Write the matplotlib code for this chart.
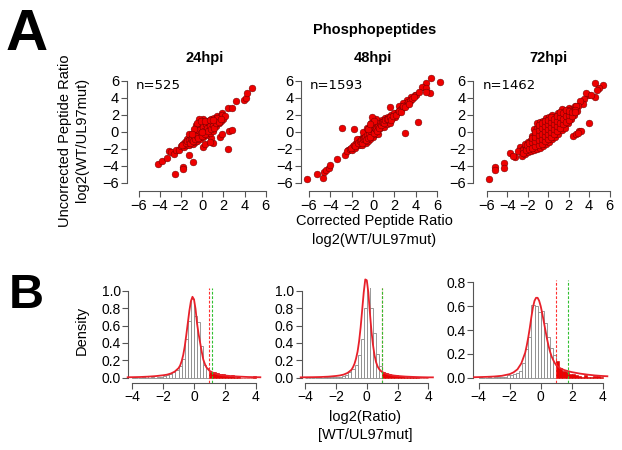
import matplotlib
matplotlib.use('Agg')
import matplotlib.pyplot as plt
import numpy as np

plt.rcParams['font.family'] = ['Liberation Sans', 'DejaVu Sans']

# ---- data ----
panels = ['24hpi', '48hpi', '72hpi']
n_labels = ['n=525', 'n=1593', 'n=1462']

# scatter: (corrected, uncorrected)
pts_24 = [(-4.19, -3.83), (-3.75, -3.44), (-3.34, -3.12), (-3.12, -2.22), (-2.9, -2.4), (-2.65, -2.61),
          (-2.46, -2.2), (-2.56, -4.97), (-1.77, -4.18), (-1.77, -4.35), (-1.2, -2.77), (-0.89, -3.52),
          (2.48, -2.02), (0.12, -1.75), (0.27, -1.45), (1.06, -1.35), (0.8, -0.7), (1.69, -0.57),
          (1.9, -0.29), (2.54, 0.1), (2.8, 0.22), (2.41, 2.77), (2.85, 2.77), (3.17, 3.68), (3.98, 3.76),
          (4.13, 3.97), (4.2, 4.62), (4.68, 5.13), (1.85, 2.19), (0.7, -1.2), (-2.2, -2.1),
          (-2.0, -1.7), (-1.8, -1.4), (-1.7, -1.8), (-1.6, -1.2), (-1.5, -1.5), (-1.4, -0.9), (-1.3, -1.3),
          (-1.2, -1.6), (-1.1, -0.7), (-1.0, -1.1), (-0.9, -1.4), (-0.9, -0.4), (-0.8, -0.8), (-0.7, -1.2),
          (-0.7, 0.1), (-0.6, -0.3), (-0.5, -0.7), (-0.5, -1.1), (-0.4, 0.4), (-0.3, 0.0), (-0.3, -0.4),
          (-0.2, -0.8), (-0.2, 1.2), (-0.1, 0.8), (0.0, 0.3), (0.0, -0.2), (0.1, -0.6), (0.1, 1.5),
          (0.2, 1.0), (0.3, 0.5), (0.3, 0.0), (0.4, -0.4), (0.5, 1.3), (0.6, 0.8), (0.6, 0.3), (0.7, -0.1),
          (0.8, 1.5), (0.9, 1.0), (0.9, 0.5), (1.0, 0.1), (1.1, 1.6), (1.2, 1.2), (1.3, 0.7), (1.4, 1.9),
          (1.5, 1.4), (1.6, 1.0), (1.7, 1.7), (1.8, 1.3), (1.9, 2.0), (2.0, 1.5), (2.2, 1.9), (-0.6, 0.8),
          (-0.3, 1.5), (0.0, 1.1), (-1.2, -0.3), (0.4, 0.8), (-0.4, -0.2), (0.2, 0.2),
          (-1.85, -1.55), (-1.55, -1.35), (-1.45, -1.1), (-1.25, -1.0), (-1.15, -1.35), (-1.05, -0.9),
          (-0.95, -0.8), (-0.85, -1.1), (-0.75, -0.5), (-0.65, -0.9), (-0.55, -0.1), (-0.45, -0.45),
          (-0.35, -0.75), (-0.25, 0.25), (-0.15, -0.1), (-0.05, -0.5), (0.05, 0.55), (0.15, 0.15),
          (0.25, -0.2), (0.35, 0.9), (0.45, 0.4), (0.55, 0.05), (0.65, 1.1), (0.75, 0.7), (0.85, 0.3),
          (0.95, 1.3), (1.05, 0.8), (1.15, 0.4), (1.25, 1.45), (1.35, 1.0), (1.45, 1.6), (1.55, 1.2),
          (1.75, 1.5), (-0.45, 1.0), (-0.1, 1.3), (0.25, 1.3), (0.7, 1.35), (-0.8, 0.3), (-1.0, -0.3),
          (1.0, 1.45), (0.0, 0.0)]

pts_48 = [(-6.2, -5.56), (-5.26, -4.97), (-4.7, -5.4), (-4.58, -4.7), (-4.39, -4.5), (-4.17, -4.3),
          (-4.0, -3.9), (-3.39, -3.2), (-2.6, -2.73), (-2.9, 0.5), (-1.75, 0.3), (-2.3, -2.14),
          (3.0, -0.17), (4.23, 1.12), (6.26, 5.92), (5.48, 6.3), (5.0, 5.8), (4.55, 5.33), (5.0, 5.2),
          (5.33, 4.62), (5.0, 4.7), (3.93, 4.35), (3.6, 4.08), (3.2, 3.7), (2.83, 3.37), (2.4, 3.0),
          (1.59, 2.97), (2.2, 2.2),
          (-2.4, -2.3), (-2.2, -2.0), (-2.0, -2.2), (-1.9, -1.7), (-1.7, -1.9), (-1.6, -1.3), (-1.5, -1.6),
          (-1.4, -1.1), (-1.3, -1.5), (-1.2, -0.8), (-1.1, -1.2), (-1.0, -1.5), (-0.9, -0.6), (-0.8, -1.0),
          (-0.7, -1.3), (-0.7, -0.3), (-0.6, -0.7), (-0.5, -1.1), (-0.4, 0.0), (-0.4, -0.5), (-0.3, -0.9),
          (-0.2, 0.4), (-0.2, 1.0), (-0.1, -0.2), (0.0, -0.6), (0.0, 0.7), (0.1, 0.2), (0.2, -0.3),
          (0.2, 1.1), (0.3, 0.6), (0.4, 0.1), (0.5, -0.2), (0.5, 1.3), (0.6, 0.8), (0.7, 0.4), (0.8, 1.4),
          (0.9, 0.9), (1.0, 0.6), (1.1, 1.6), (1.2, 1.2), (1.3, 0.9), (1.4, 1.8), (1.5, 1.4), (1.6, 1.1),
          (1.7, 2.0), (1.8, 1.6), (2.0, 2.2), (2.1, 1.8), (2.3, 2.3), (2.5, 2.6), (2.7, 2.8), (2.9, 3.0),
          (3.1, 3.2), (3.3, 3.5), (3.5, 3.6), (3.7, 3.9), (4.0, 4.3), (4.3, 4.7), (-0.9, 0.0), (-0.6, 0.5),
          (0.3, 1.5), (-0.1, 1.7), (-1.5, -0.9),
          (-2.1, -1.85), (-1.8, -1.55), (-1.65, -1.65), (-1.45, -1.35), (-1.25, -1.1), (-1.15, -0.95),
          (-1.05, -1.3), (-0.95, -0.9), (-0.85, -0.75), (-0.75, -0.6), (-0.65, -1.0), (-0.55, -0.4),
          (-0.45, -0.75), (-0.35, -0.25), (-0.25, -0.6), (-0.15, 0.15), (-0.05, 0.3), (0.05, -0.1),
          (0.15, 0.5), (0.25, 0.3), (0.35, 0.05), (0.45, 0.7), (0.55, 0.45), (0.65, 1.0), (0.75, 0.75),
          (0.85, 1.15), (0.95, 1.2), (1.05, 1.0), (1.15, 1.4), (1.3, 1.5), (1.45, 1.5), (1.55, 1.75),
          (1.65, 1.4), (1.9, 1.9), (2.2, 2.0), (2.4, 2.5), (2.6, 2.4), (2.8, 3.1), (3.0, 2.9), (3.4, 3.3),
          (3.8, 4.1), (-0.35, 0.5), (-0.5, 0.3), (0.1, 1.3), (-0.3, 0.9)]

pts_72 = [(-5.84, -5.56), (-5.19, -4.11), (-5.19, -4.5), (-4.38, -3.63), (-4.3, -4.3), (-3.73, -2.54),
          (-3.3, -3.0), (-3.5, -2.9), (-2.75, -1.75), (-2.27, -2.54), (-3.0, -2.3), (-2.5, -2.0),
          (4.54, 5.73), (5.35, 5.53), (5.0, 5.2), (4.8, 4.9), (4.54, 4.15), (3.9, 4.3), (3.7, 4.6),
          (4.2, 4.4), (3.5, 3.9), (3.4, 3.3), (3.1, 3.6), (2.9, 3.0),
          (2.43, -0.49), (2.75, -0.25), (3.0, 0.06), (3.2, 0.1), (2.9, -0.1), (3.99, 1.0),
          (-2.6, -2.8), (-2.5, -2.2), (-2.3, -2.6), (-2.2, -1.9), (-2.3, -1.4), (-2.0, -2.4), (-1.9, -1.8),
          (-2.0, -1.2), (-1.7, -2.3), (-1.8, -1.6), (-1.7, -1.0), (-1.6, -0.5), (-1.4, -2.2), (-1.5, -1.5),
          (-1.4, -0.9), (-1.3, -0.3), (-1.4, 0.3), (-1.1, -2.0), (-1.2, -1.4), (-1.1, -0.8), (-1.0, -0.2),
          (-1.1, 0.5), (-1.1, 1.0), (-0.8, -1.9), (-0.9, -1.2), (-0.8, -0.6), (-0.7, 0.0), (-0.8, 0.6),
          (-0.8, 1.2), (-0.5, -1.7), (-0.6, -1.1), (-0.5, -0.5), (-0.4, 0.1), (-0.5, 0.7), (-0.5, 1.3),
          (-0.2, -1.4), (-0.3, -0.8), (-0.2, -0.2), (-0.1, 0.4), (-0.2, 1.0), (-0.2, 1.6), (0.1, -1.2),
          (0.0, -0.6), (0.1, 0.0), (0.2, 0.6), (0.1, 1.2), (0.1, 1.8), (0.4, -0.9), (0.3, -0.3), (0.4, 0.3),
          (0.5, 0.9), (0.4, 1.5), (0.4, 2.0), (0.7, -0.6), (0.6, 0.0), (0.7, 0.6), (0.8, 1.2), (0.7, 1.8),
          (1.0, -0.2), (0.9, 0.4), (1.0, 1.0), (1.1, 1.6), (1.0, 2.2), (1.3, 0.2), (1.2, 0.8), (1.3, 1.4),
          (1.4, 2.0), (1.3, 2.7), (1.6, 0.5), (1.5, 1.2), (1.6, 1.8), (1.7, 2.4), (1.9, 1.0), (1.8, 1.6),
          (1.9, 2.2), (2.0, 2.8), (2.2, 1.5), (2.1, 2.1), (2.3, 2.7), (2.5, 2.0), (2.4, 2.6), (2.6, 3.1),
          (2.8, 2.5), (2.7, 3.0),
          (-2.45, -2.5), (-2.15, -2.2), (-2.1, -1.6), (-1.85, -2.0), (-1.85, -1.3), (-1.55, -1.85),
          (-1.55, -1.2), (-1.55, -0.7), (-1.25, -1.7), (-1.25, -1.1), (-1.25, -0.55), (-1.25, 0.0),
          (-0.95, -1.6), (-0.95, -1.0), (-0.95, -0.4), (-0.95, 0.25), (-0.95, 0.8), (-0.65, -1.4),
          (-0.65, -0.8), (-0.65, -0.2), (-0.65, 0.4), (-0.65, 1.0), (-0.35, -1.1), (-0.35, -0.5),
          (-0.35, 0.1), (-0.35, 0.7), (-0.35, 1.3), (-0.05, -0.9), (-0.05, -0.3), (-0.05, 0.3),
          (-0.05, 0.9), (-0.05, 1.4), (0.25, -0.6), (0.25, 0.0), (0.25, 0.6), (0.25, 1.2), (0.25, 1.7),
          (0.55, -0.3), (0.55, 0.3), (0.55, 0.9), (0.55, 1.5), (0.85, 0.1), (0.85, 0.7), (0.85, 1.3),
          (0.85, 1.9), (1.15, 0.5), (1.15, 1.1), (1.15, 1.8), (1.15, 2.3), (1.45, 0.9), (1.45, 1.5),
          (1.45, 2.2), (1.75, 1.2), (1.75, 1.9), (1.75, 2.6), (2.05, 1.4), (2.05, 2.0), (2.05, 2.5),
          (2.35, 1.9), (2.35, 2.4), (2.65, 2.6), (2.65, 2.3)]

pts_all = [pts_24, pts_48, pts_72]

# histograms: bin left edges -4.0 ... 3.8, width 0.2, density
bin_left = np.round(np.arange(-4.0, 3.9, 0.2), 1)
hist_24 = [0.01, 0.0, 0.0, 0.01, 0.02, 0.0, 0.01, 0.0, 0.01, 0.01,
           0.02, 0.03, 0.04, 0.06, 0.09, 0.13, 0.22, 0.45, 0.65, 0.90,
           0.71, 0.64, 0.36, 0.15, 0.11, 0.06, 0.06, 0.05, 0.04, 0.04,
           0.03, 0.02, 0.03, 0.01, 0.02, 0.0, 0.0, 0.0, 0.0, 0.02]
hist_48 = [0.0, 0.0, 0.0, 0.0, 0.005, 0.0, 0.005, 0.005, 0.01, 0.01,
           0.01, 0.01, 0.02, 0.03, 0.06, 0.10, 0.15, 0.26, 0.44, 0.80,
           1.10, 0.80, 0.51, 0.27, 0.13, 0.07, 0.05, 0.04, 0.03, 0.03,
           0.02, 0.02, 0.01, 0.01, 0.01, 0.005, 0.005, 0.0, 0.0, 0.0]
hist_72 = [0.005, 0.0, 0.0, 0.005, 0.0, 0.005, 0.005, 0.01, 0.01, 0.02,
           0.02, 0.03, 0.04, 0.06, 0.12, 0.24, 0.34, 0.61, 0.60, 0.55,
           0.56, 0.46, 0.34, 0.25, 0.19, 0.14, 0.08, 0.06, 0.05, 0.03,
           0.03, 0.02, 0.015, 0.01, 0.02, 0.01, 0.01, 0.015, 0.015, 0.01]
hist_all = [hist_24, hist_48, hist_72]

# fitted density curves
curve_x = [-4.3, -4.0, -3.5, -3.0, -2.5, -2.0, -1.75, -1.5, -1.25, -1.0, -0.9, -0.8, -0.7, -0.6, -0.5,
           -0.4, -0.3, -0.2, -0.1, 0.0, 0.1, 0.2, 0.3, 0.4, 0.5, 0.6, 0.7, 0.8, 0.9, 1.0, 1.25, 1.5,
           1.75, 2.0, 2.5, 3.0, 3.5, 4.0, 4.3]
curve_24 = [0.005, 0.006, 0.008, 0.012, 0.018, 0.028, 0.035, 0.048, 0.07, 0.11, 0.14, 0.19, 0.26, 0.36,
            0.49, 0.63, 0.77, 0.88, 0.93, 0.90, 0.79, 0.62, 0.50, 0.40, 0.30, 0.21, 0.16, 0.12, 0.10,
            0.08, 0.055, 0.04, 0.03, 0.025, 0.017, 0.012, 0.008, 0.006, 0.005]
curve_48 = [0.004, 0.005, 0.006, 0.008, 0.012, 0.02, 0.026, 0.036, 0.055, 0.09, 0.12, 0.16, 0.22, 0.30,
            0.42, 0.58, 0.78, 0.98, 1.13, 1.12, 0.98, 0.75, 0.54, 0.38, 0.26, 0.18, 0.13, 0.10, 0.08,
            0.065, 0.045, 0.033, 0.025, 0.02, 0.013, 0.009, 0.006, 0.004, 0.004]
curve_72 = [0.004, 0.005, 0.007, 0.01, 0.016, 0.03, 0.045, 0.07, 0.12, 0.21, 0.27, 0.34, 0.42, 0.51,
            0.59, 0.645, 0.67, 0.67, 0.645, 0.60, 0.54, 0.47, 0.40, 0.33, 0.27, 0.22, 0.18, 0.15, 0.125,
            0.105, 0.08, 0.065, 0.055, 0.047, 0.035, 0.026, 0.019, 0.014, 0.012]
curve_all = [curve_24, curve_48, curve_72]

red_cut = [1.0, 1.0, 1.0]
green_cut = [1.19, 1.02, 1.78]
hist_ytop = [1.0, 1.0, 0.8]

W, H = 622, 450
fig = plt.figure(figsize=(W / 100, H / 100), dpi=100)


def px_axes(l, t, r, b):
    return fig.add_axes([l / W, 1 - b / H, (r - l) / W, (b - t) / H])


def ftext(x, y, s, **kw):
    fig.text(x / W, 1 - y / H, s, **kw)


axis_col = '#555555'


def style_axes(ax, xb, yb, fs):
    for s in ['top', 'right']:
        ax.spines[s].set_visible(False)
    ax.spines['left'].set_bounds(*yb)
    ax.spines['bottom'].set_bounds(*xb)
    for s in ['left', 'bottom']:
        ax.spines[s].set_color(axis_col)
        ax.spines[s].set_linewidth(0.8)
    ax.tick_params(length=4, width=0.8, color=axis_col, pad=1.5, labelsize=fs)
    ax.patch.set_alpha(0)


# ---- panel A: scatter ----
# (x of -6 tick, x of 6 tick, y-axis line) in pixels
sc_geom = [(138.5, 265.7, 126.7), (309.0, 437.0, 301.0), (487.0, 609.5, 473.3)]
y6, ym6, xaxis_y = 81.0, 182.7, 191.0
sy = (ym6 - y6) / 12
for i, (xm, xp, ya) in enumerate(sc_geom):
    sx = (xp - xm) / 12
    off = xm - ya
    ax = px_axes(ya, y6 - (xaxis_y - ym6), xp + off, xaxis_y)
    ax.set_xlim(-6 - off / sx, 6 + off / sx)
    yo = (xaxis_y - ym6) / sy
    ax.set_ylim(-6 - yo, 6 + yo)
    xs = [p[0] for p in pts_all[i]]
    ys = [p[1] for p in pts_all[i]]
    ax.scatter(xs, ys, s=24, c='#EE0000', edgecolors='#5a0000', linewidths=0.3, clip_on=False, zorder=3)
    ax.set_xticks(range(-6, 7, 2))
    ax.set_yticks(range(-6, 7, 2))
    style_axes(ax, (-6, 6), (-6, 6), 10.5)
    ax.text(0.06, 0.89, n_labels[i], transform=ax.transAxes, family='DejaVu Sans', fontsize=9.5,
            ha='left', va='center')

ftext(205, 58, '24hpi', fontsize=10.5, fontweight='bold', ha='center', va='center')
ftext(373, 58, '48hpi', fontsize=10.5, fontweight='bold', ha='center', va='center')
ftext(548, 58, '72hpi', fontsize=10.5, fontweight='bold', ha='center', va='center')
ftext(375, 30, 'Phosphopeptides', fontsize=10.5, fontweight='bold', ha='center', va='center')
ftext(65.5, 141, 'Uncorrected Peptide Ratio', fontsize=10.5, rotation=90, ha='center', va='center')
ftext(82.5, 140, 'log2(WT/UL97mut)', fontsize=10.5, rotation=90, ha='center', va='center')
ftext(374, 221, 'Corrected Peptide Ratio', fontsize=10.5, ha='center', va='center')
ftext(374, 240, 'log2(WT/UL97mut)', fontsize=10.5, ha='center', va='center')

# ---- panel B: histograms ----
# (x of -4 tick, x of 4 tick, y-axis line, y px of 0, y px of top tick)
h_geom = [(132.3, 255.7, 128.3, 377.7, 290.7), (305.3, 428.3, 301.7, 377.7, 290.7),
          (478.7, 602.7, 473.3, 377.7, 282.3)]
hx_axis_y = 382.7
for i, (xm, xp, ya, y0, yt) in enumerate(h_geom):
    sx = (xp - xm) / 8
    off = xm - ya
    syh = (y0 - yt) / hist_ytop[i]
    top_px = yt - 2.5
    ax = px_axes(ya, top_px, xp + off, hx_axis_y)
    ax.set_xlim(-4 - off / sx, 4 + off / sx)
    ax.set_ylim(-(hx_axis_y - y0) / syh, hist_ytop[i] + (yt - top_px) / syh)
    for left, h in zip(bin_left, hist_all[i]):
        if left >= red_cut[i] - 1e-9:
            ax.bar(left, h, width=0.2, align='edge', facecolor='#EE0000', edgecolor='#CC0000',
                   linewidth=0.4)
        else:
            ax.bar(left, h, width=0.2, align='edge', facecolor='white', edgecolor='#888888',
                   linewidth=0.6)
    ax.plot(curve_x, curve_all[i], color='#E8202A', lw=1.3, clip_on=False, zorder=4)
    ax.axvline(red_cut[i], color='#FF3030', lw=0.8, ls=(0, (2.5, 1.5)), zorder=5)
    ax.axvline(green_cut[i], color='#30C030', lw=0.8, ls=(0, (2.5, 1.5)), zorder=5)
    ax.set_xticks(range(-4, 5, 2))
    yt_vals = np.round(np.arange(0, hist_ytop[i] + 0.01, 0.2), 1)
    ax.set_yticks(yt_vals)
    ax.set_yticklabels(['%.1f' % v for v in yt_vals])
    style_axes(ax, (-4, 4), (0, hist_ytop[i]), 10)

ftext(82, 330, 'Density', fontsize=10.5, rotation=90, ha='center', va='center')
ftext(365, 417, 'log2(Ratio)', fontsize=10.5, ha='center', va='center')
ftext(365, 435, '[WT/UL97mut]', fontsize=10.5, ha='center', va='center')

# panel letters
ftext(6, 50, 'A', fontsize=42, fontweight='bold', ha='left', va='baseline')
ftext(9, 308, 'B', fontsize=35, fontweight='bold', ha='left', va='baseline')

fig.savefig('out.png', dpi=100)
